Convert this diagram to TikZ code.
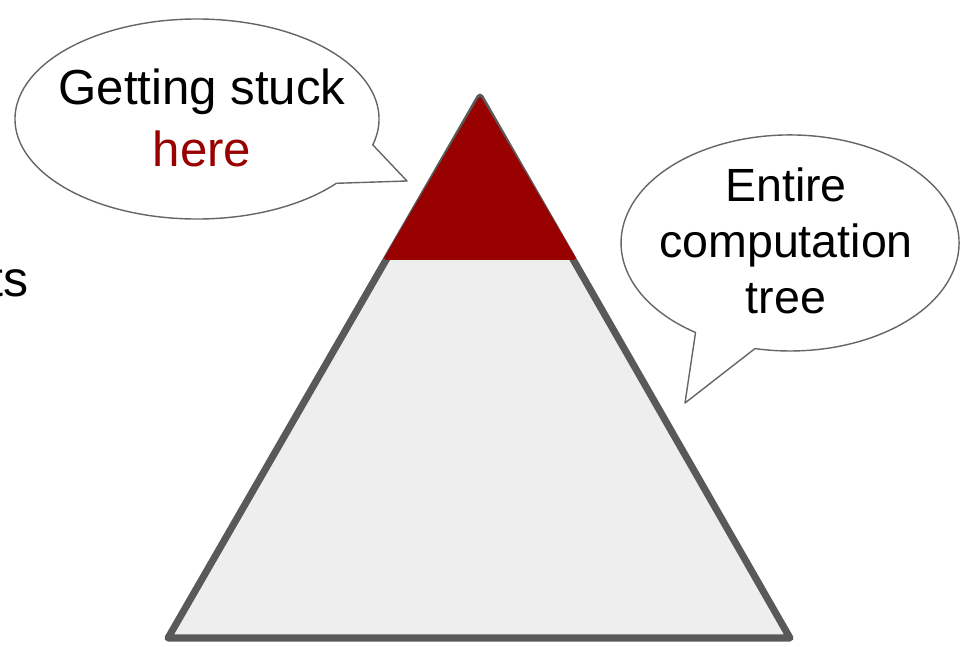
\documentclass[tikz,border=0pt]{standalone}
\usepackage{fontspec}
\setmainfont{Liberation Sans}
\usepackage{tikz}
\definecolor{stuck}{HTML}{990000}
\definecolor{treefill}{HTML}{EEEEEE}
\definecolor{treeline}{HTML}{595959}
\definecolor{bubble}{HTML}{666666}

\begin{document}
\begin{tikzpicture}[x=0.02cm,y=0.02cm,
    callout/.style={draw=bubble,fill=white,line width=0.8pt,line join=round},
    bigword/.style={font=\fontsize{28}{34}\selectfont,anchor=base},
    word/.style={font=\fontsize{26.5}{32}\selectfont,anchor=base}]
  \useasboundingbox (0,0) rectangle (969,646);
  \clip (0,0) rectangle (969,646);

  % Computation tree
  \draw[treeline,fill=treefill,line width=4pt,line join=round] (168,8) -- (790,8) -- (480,549) -- cycle;
  \fill[stuck,draw=stuck,line width=2pt,line join=round] (386,388) -- (574,388) -- (480,547) -- cycle;

  % Callouts
  \draw[callout] (372.8,501.1) arc[start angle=-15,end angle=320,x radius=182,y radius=100] -- (407,465) -- cycle;
  \draw[callout] (754.9,297.4) arc[start angle=258,end angle=596,x radius=169,y radius=108] -- (685,243) -- cycle;

  \node[bigword] (getting) at (202,541) {Getting stuck};
  \node[bigword,stuck] (here) at (202,479) {here};
  \node[word] (entire) at (786,444) {Entire};
  \node[word] (computation) at (786,388) {computation};
  \node[word] (tree) at (786,333) {tree};

  % cut-off text at the left edge
  \node[font=\fontsize{28.5}{34}\selectfont,anchor=base east,inner sep=0pt] (ts) at (29,349) {ts};
\end{tikzpicture}
\end{document}
